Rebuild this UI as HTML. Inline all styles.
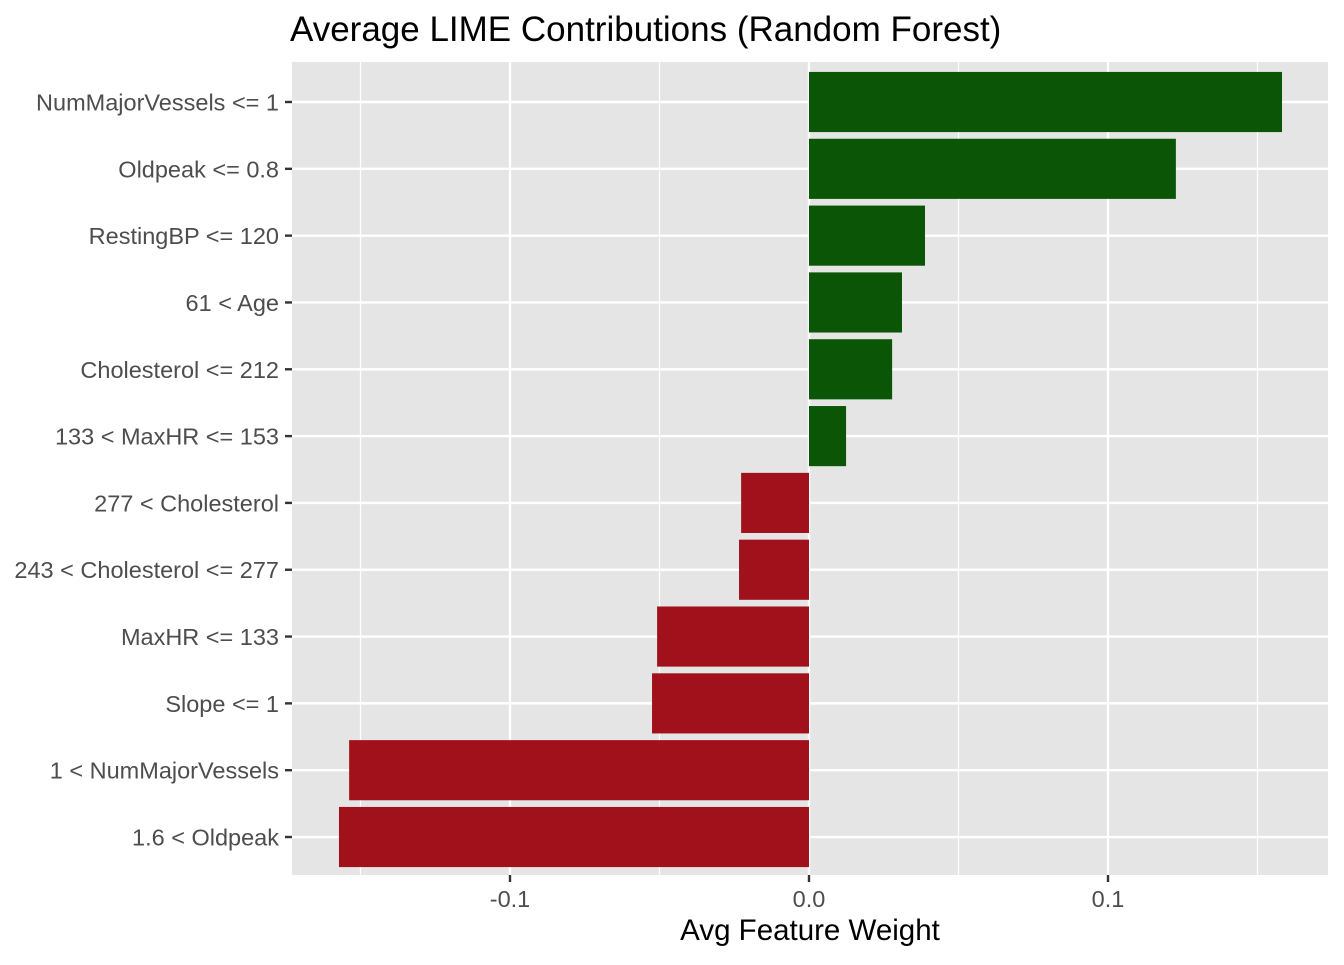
<!DOCTYPE html>
<html><head><meta charset="utf-8"><style>
body{margin:0;background:#fff;}
text{font-family:"Liberation Sans",Arial,sans-serif;}
</style></head><body>
<svg id="chart" width="1344" height="960" xmlns="http://www.w3.org/2000/svg">
<text x="290" y="41" font-size="35" fill="#000">Average LIME Contributions (Random Forest)</text>
<rect x="292" y="62" width="1036" height="813" fill="#e5e5e5"/>
<g id="grid"></g><g id="bars"></g><g id="axes"></g>
<text x="810" y="940" font-size="29.5" text-anchor="middle" fill="#000">Avg Feature Weight</text>
</svg>
<script>
const categories=["NumMajorVessels <= 1","Oldpeak <= 0.8","RestingBP <= 120","61 < Age","Cholesterol <= 212","133 < MaxHR <= 153","277 < Cholesterol","243 < Cholesterol <= 277","MaxHR <= 133","Slope <= 1","1 < NumMajorVessels","1.6 < Oldpeak"];
const values=[0.1582,0.1227,0.0388,0.0311,0.0278,0.0124,-0.0227,-0.0234,-0.0508,-0.0525,-0.1538,-0.1572];
const xTicks=[-0.1,0,0.1];
const xTickLabels=["-0.1","0.0","0.1"];
const xMinor=[-0.15,-0.05,0.05,0.15];
const NS="http://www.w3.org/2000/svg";
const X=v=>809+v*2990;
const band=66.82, Y=i=>102+i*band;
function mk(t,a,p){const e=document.createElementNS(NS,t);for(const k in a)e.setAttribute(k,a[k]);p.appendChild(e);return e;}
const grid=document.getElementById('grid'),bars=document.getElementById('bars'),axes=document.getElementById('axes');
xMinor.forEach(v=>{const l=mk('line',{x1:X(v),x2:X(v),y1:62,y2:875,stroke:'#fff','stroke-width':1.2},grid);

});
xTicks.forEach((v,i)=>{const l=mk('line',{x1:X(v),x2:X(v),y1:62,y2:875,stroke:'#fff','stroke-width':2.4},grid);


const t=mk('line',{x1:X(v),x2:X(v),y1:875,y2:882,stroke:'#333','stroke-width':2.4},axes);


const tx=mk('text',{x:X(v),y:907,'font-size':23.5,'text-anchor':'middle',fill:'#4d4d4d'},axes);tx.textContent=xTickLabels[i];

});
categories.forEach((c,i)=>{const y=Y(i);
const g=mk('line',{x1:292,x2:1328,y1:y,y2:y,stroke:'#fff','stroke-width':2.4},grid);


const v=values[i],h=band*0.9;
const r=mk('rect',{x:Math.min(X(0),X(v)),y:y-h/2,width:Math.abs(X(v)-X(0)),height:h,fill:v>=0?'#0b5506':'#a0111b'},bars);


const t=mk('line',{x1:285,x2:292,y1:y,y2:y,stroke:'#333','stroke-width':2.4},axes);


const tx=mk('text',{x:279,y:y+8.5,'font-size':23.5,'text-anchor':'end',fill:'#4d4d4d'},axes);tx.textContent=c;

});
</script>
</body></html>
